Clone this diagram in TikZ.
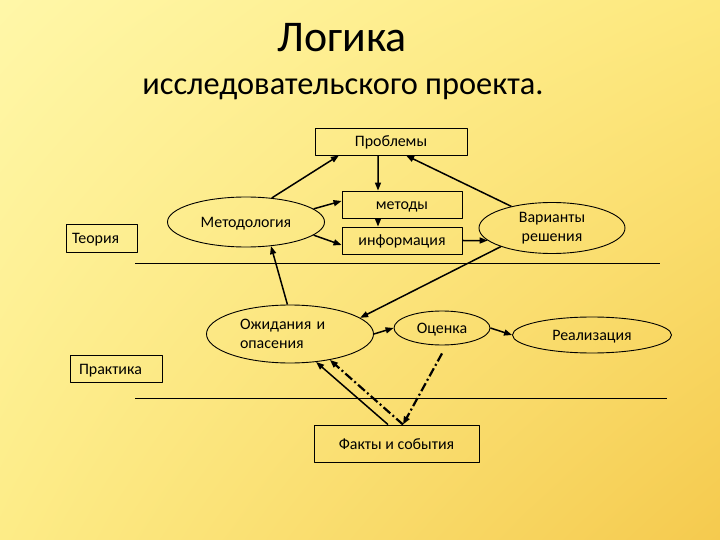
\documentclass[tikz,border=0pt]{standalone}
\usepackage{fontspec}
\setmainfont{Carlito}
\usetikzlibrary{arrows.meta,shapes.geometric,shadings}
\definecolor{bgtl}{RGB}{255,247,168}
\definecolor{bgtr}{RGB}{253,232,125}
\definecolor{bgbl}{RGB}{253,236,135}
\definecolor{bgbr}{RGB}{245,202,78}
\tikzset{
  every picture/.style={line join=round, >={Triangle[length=8bp,width=6bp]}},
  label text/.style={font=\fontsize{16}{19}\selectfont},
  one line/.style={text height=12bp, text depth=1bp},
  box/.style={draw, line width=0.9bp, rectangle, inner sep=0pt, label text, one line},
  oval/.style={draw, line width=0.9bp, ellipse, inner sep=0pt, label text},
  link/.style={->, line width=1.5bp},
  dashlink/.style={->, line width=2.2bp, dash pattern=on 9bp off 3bp on 2bp off 3bp},
}

\begin{document}
\begin{tikzpicture}[x=1bp,y=-1bp]
\shade[upper left=bgtl, upper right=bgtr, lower left=bgbl, lower right=bgbr] (0,0) rectangle (720,540);
\useasboundingbox (0,0) rectangle (720,540);
\node[font=\fontsize{44}{48}\selectfont] (title) at (342,38) {Логика};
\node[font=\fontsize{32.5}{36}\selectfont] (subtitle) at (343,89) {исследовательского проекта.};
% upper level
\node[box, minimum width=152bp, minimum height=27bp] (probl) at (391,141.5) {Проблемы};
\node[box, minimum width=120bp, minimum height=27bp] (metody) at (402,204.5) {методы};
\node[box, minimum width=120bp, minimum height=27bp] (info) at (402,240.5) {информация};
\node[oval, one line, minimum width=157bp, minimum height=50bp] (metod) at (246,222) {Методология};
\node[box, minimum height=28bp, text width=59bp, inner xsep=6bp, align=left] (teor) at (101.5,238) {Теория};
\node[oval, minimum width=146bp, minimum height=51bp, align=center] (var) at (552,228) {Варианты\\решения};
\draw[line width=0.9bp] (135,263) -- (660,263);
% lower level
\node[oval, minimum width=167bp, minimum height=58bp, text width=100bp, align=left] (ozh) at (290,334) {Ожидания и\\опасения};
\node[oval, one line, minimum width=96bp, minimum height=34bp] (ocen) at (442,328) {Оценка};
\node[oval, one line, minimum width=159bp, minimum height=36bp] (real) at (592,335) {Реализация};
\node[box, minimum height=27bp, text width=74bp, inner xsep=9bp, align=left] (prakt) at (116,368.5) {Практика};
\draw[line width=0.9bp] (135,398) -- (667,398);
\node[box, minimum width=165bp, minimum height=37bp] (fakt) at (396.5,443.5) {Факты и события};
% arrows
\draw[link] (metod.43) -- (probl.195);
\draw[link] ([xshift=-13bp]probl.south) -- ([xshift=-24bp]metody.north);
\draw[link] ([xshift=-24bp]metody.south) -- ([xshift=-24bp]info.north);
\draw[link] (metod.11) -- ([yshift=3.5bp]metody.west);
\draw[link] (metod.-11) -- ([yshift=-4.5bp]info.west);
\draw[link] (info.east) -- (var.191);
\draw[link] (var.152) -- ([xshift=15bp]probl.south);
\draw[link] (var.200) -- (ozh.13);
\draw[link] (ozh.95) -- (metod.-44);
\draw[link] (ozh.east) -- (ocen.west);
\draw[link] (ocen.east) -- (real.west);
\draw[link] ([xshift=-8.5bp]fakt.north) -- (ozh.-47);
\draw[dashlink] ([yshift=-8bp]ocen.south) -- ([xshift=6.5bp]fakt.north);
\draw[dashlink] ([xshift=6.5bp]fakt.north) -- (ozh.-33);
\end{tikzpicture}
\end{document}
